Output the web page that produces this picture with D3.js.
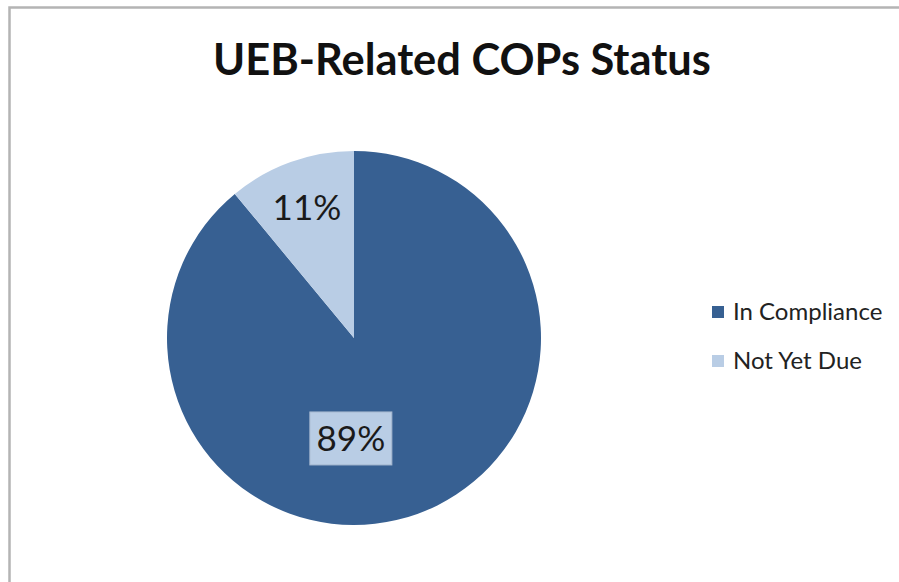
<!DOCTYPE html>
<html>
<head>
<meta charset="utf-8">
<script src="https://cdn.jsdelivr.net/npm/d3@7"></script>
<style>
  body { margin: 0; background: #fff; }
  svg { display: block; }
  text { font-family: Lato, "Open Sans", sans-serif; }
</style>
</head>
<body>
<div id="chart"></div>
<script>
const categories = ["In Compliance", "Not Yet Due"]
const values = [89, 11]
const labels = ["89%", "11%"]
const title = "UEB-Related COPs Status"

const colors = ["#376092", "#b9cde5"]

function draw() {
  const dimensions = {
    width: 899,
    height: 582,
    cx: 354,
    cy: 338,
    radius: 187,
  }

  const data = categories.map((c, i) => ({ name: c, value: values[i], label: labels[i] }))

  const svg = d3
    .select("#chart")
    .append("svg")
    .attr("width", dimensions.width)
    .attr("height", dimensions.height)

  // outer frame (only left and top edges are visible)
  svg.append("path")
    .attr("d", `M9.5,${dimensions.height} V7.5 H${dimensions.width}`)
    .attr("fill", "none")
    .attr("stroke", "#b4b4b4")
    .attr("stroke-width", 2.5)

  // title, fitted to the reference width
  const titleText = svg.append("text")
    .attr("x", 462)
    .attr("y", 75)
    .attr("text-anchor", "middle")
    .attr("font-weight", "bold")
    .attr("font-size", 36)
    .attr("fill", "#111")
    .text(title)
  const tw = titleText.node().getComputedTextLength()
  titleText.attr("font-size", 36 * 498 / tw)

  const pie = d3.pie().value(d => d.value).sort(null)
  const arc = d3.arc().innerRadius(0).outerRadius(dimensions.radius)

  const ctr = svg.append("g")
    .attr("transform", `translate(${dimensions.cx}, ${dimensions.cy})`)

  const arcs = pie(data)

  ctr.selectAll("path")
    .data(arcs)
    .join("path")
    .attr("d", arc)
    .attr("fill", (d, i) => colors[i])

  // label positions: angle (rad from 12 o'clock) and distance from centre
  const labelPos = [
    { angle: Math.PI * 1.01, r: 100, box: true },
    { angle: null, r: 139, box: false },
  ]

  arcs.forEach((d, i) => {
    const p = labelPos[i]
    const a = p.angle == null ? (d.startAngle + d.endAngle) / 2 : p.angle
    const x = Math.sin(a) * p.r
    const y = -Math.cos(a) * p.r
    const g = ctr.append("g").attr("transform", `translate(${x}, ${y})`)
    if (p.box) {
      g.append("rect")
        .attr("x", -41)
        .attr("y", -26)
        .attr("width", 82)
        .attr("height", 53)
        .attr("fill", colors[1])
        .attr("stroke", "#a7b9cf")
        .attr("stroke-width", 1)
    }
    g.append("text")
      .attr("text-anchor", "middle")
      .attr("dy", "0.36em")
      .attr("font-size", 35)
      .attr("fill", "#1a1a1a")
      .text(d.data.label)
  })

  // legend
  const legend = svg.append("g")
    .attr("transform", "translate(712, 312)")

  const items = legend.selectAll("g")
    .data(data)
    .join("g")
    .attr("transform", (d, i) => `translate(0, ${i * 49})`)

  items.append("rect")
    .attr("x", 0)
    .attr("y", -6)
    .attr("width", 12)
    .attr("height", 12)
    .attr("fill", (d, i) => colors[i])

  items.append("text")
    .attr("x", 21)
    .attr("dy", "0.35em")
    .attr("font-size", 24)
    .attr("fill", "#222")
    .text(d => d.name)
}

draw()
</script>
</body>
</html>
